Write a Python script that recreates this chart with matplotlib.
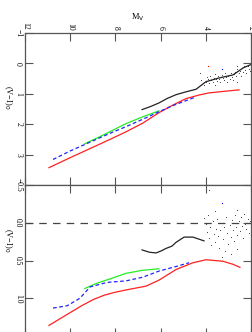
import matplotlib
matplotlib.use('Agg')
import matplotlib.pyplot as plt

plt.rcParams['font.family'] = ['Liberation Serif', 'DejaVu Serif']

# --- panel superior: color (V-I)_0 frente a M_V ---
red_mv = [10.94, 10.0, 9.0, 8.24, 7.53, 6.8, 6.07, 5.4, 4.88, 4.3, 3.86, 3.2, 2.53]
red_col = [3.43, 3.1, 2.76, 2.5, 2.25, 1.97, 1.62, 1.35, 1.16, 1.04, 0.97, 0.92, 0.87]
blue_mv = [10.76, 10.0, 9.0, 8.24, 7.53, 6.8, 6.07, 5.5, 5.0, 4.43]
blue_col = [3.16, 2.88, 2.55, 2.3, 2.08, 1.84, 1.59, 1.4, 1.26, 1.1]
green_mv = [9.35, 8.8, 8.2, 7.53, 6.8, 6.07]
green_col = [2.64, 2.45, 2.23, 1.98, 1.76, 1.56]
black_mv = [6.82, 6.45, 6.07, 5.7, 5.32, 4.9, 4.43, 3.99, 3.42, 2.8, 2.35, 1.95]
black_col = [1.52, 1.42, 1.30, 1.15, 1.03, 0.94, 0.85, 0.6, 0.48, 0.38, 0.15, 0.02]

top_pts_mv = [4.35, 4.2, 4.1, 4.0, 3.95, 3.9, 3.85, 3.8, 3.75, 3.7, 3.65, 3.6,
              3.55, 3.5, 3.45, 3.4, 3.35, 3.3, 3.25, 3.2, 3.15, 3.1, 3.05, 3.0,
              2.95, 2.9, 2.85, 2.8, 2.75, 2.7, 2.65, 2.6, 2.55, 2.5, 2.45, 2.4,
              2.35, 2.3, 2.25, 2.2, 2.15, 2.1, 2.05, 2.0, 3.6, 2.6, 4.25]
top_pts_col = [0.78, 0.55, 0.7, 0.6, 0.45, 0.5, 0.65, 0.4, 0.55, 0.62, 0.48, 0.35,
               0.52, 0.58, 0.42, 0.5, 0.62, 0.38, 0.47, 0.55, 0.33, 0.45, 0.6, 0.4,
               0.5, 0.3, 0.44, 0.55, 0.35, 0.28, 0.42, 0.2, 0.33, 0.25, 0.4, 0.15,
               0.28, 0.1, 0.22, 0.32, 0.08, 0.18, 0.25, 0.05, 0.72, 0.62, 0.32]
top_red_mv = [3.9, 2.6]
top_red_col = [0.1, 0.1]
top_blue_mv = [3.3]
top_blue_col = [0.2]

# --- panel inferior: residuos ---
red2_mv = [10.94, 10.5, 10.0, 9.5, 9.0, 8.5, 8.0, 7.53, 6.65, 6.07, 5.32, 4.57, 3.99, 3.24, 2.8, 2.49]
red2_d = [1.36, 1.28, 1.19, 1.10, 1.02, 0.96, 0.92, 0.89, 0.84, 0.76, 0.62, 0.53, 0.49, 0.51, 0.55, 0.59]
blue2_mv = [10.76, 10.14, 9.57, 9.12, 8.37, 7.53, 6.78, 6.07, 5.32, 4.74]
blue2_d = [1.13, 1.10, 1.00, 0.85, 0.79, 0.77, 0.72, 0.64, 0.58, 0.53]
green2_mv = [9.35, 8.81, 8.2, 7.53, 6.8, 6.07]
green2_d = [0.87, 0.80, 0.74, 0.67, 0.63, 0.61]
black2_mv = [6.82, 6.5, 6.2, 5.95, 5.76, 5.5, 5.32, 4.96, 4.57, 4.08]
black2_d = [0.36, 0.39, 0.40, 0.37, 0.34, 0.31, 0.26, 0.19, 0.19, 0.24]

bot_pts_mv = [4.1, 4.0, 3.95, 3.9, 3.85, 3.8, 3.75, 3.7, 3.65, 3.6, 3.55, 3.5,
              3.45, 3.4, 3.35, 3.3, 3.25, 3.2, 3.15, 3.1, 3.05, 3.0, 2.95, 2.9,
              2.85, 2.8, 2.75, 2.7, 2.65, 2.6, 2.55, 2.5, 2.45, 2.4, 2.35, 2.3,
              2.25, 2.2, 2.15, 2.1, 2.05, 2.0, 3.6, 2.9, 3.3, 2.6]
bot_pts_d = [-0.06, 0.02, 0.12, -0.1, 0.2, 0.05, 0.3, -0.02, 0.15, 0.25, 0.08, -0.05,
             0.18, 0.33, 0.1, 0.0, 0.22, 0.06, 0.38, -0.08, 0.14, 0.28, 0.03, 0.19,
             -0.04, 0.09, 0.24, -0.1, 0.05, 0.16, -0.02, 0.11, -0.07, 0.04, 0.2, -0.12,
             0.01, 0.08, -0.05, 0.13, -0.02, 0.06, -0.15, 0.42, 0.45, 0.35]
bot_red_mv = [3.85, 2.6]
bot_red_d = [-0.43, -0.17]
bot_blue_mv = [3.3]
bot_blue_d = [-0.26]

top_ticks = [-1, 0, 1, 2, 3]
bot_ticks = [-0.5, 0.0, 0.5, 1.0, 1.5]
bot_ticklabels = ['\u22120.5', '0.0', '0.5', '1.0', '1.5']
mv_ticks = [12, 10, 8, 6, 4, 2]

fig = plt.figure(figsize=(2.52, 3.32), dpi=100)
ax1 = fig.add_axes([25 / 252, 1 - 185 / 332, 226 / 252, 152 / 332])
ax2 = fig.add_axes([25 / 252, 1 - 336 / 332, 226 / 252, 151 / 332])

spine_col = '#555555'
for ax in (ax1, ax2):
    ax.set_xlim(12, 2)
    for s in ax.spines.values():
        s.set_color(spine_col)
        s.set_linewidth(0.9)
    ax.tick_params(direction='in', length=5.5, width=0.8, color=spine_col,
                   top=True, bottom=True, left=True, right=True,
                   labelsize=5.5, pad=2)
    ax.set_xticks(mv_ticks)

# superior
ax1.plot(red_mv, red_col, color='#ff2020', lw=0.9)
ax1.plot(green_mv, green_col, color='#22ee22', lw=0.9)
ax1.plot(blue_mv, blue_col, color='#2222ff', lw=0.9, ls=(0, (3, 2)))
ax1.plot(black_mv, black_col, color='#222222', lw=0.9)
ax1.scatter(top_pts_mv, top_pts_col, s=0.6, color='#333333', linewidths=0)
ax1.scatter(top_red_mv, top_red_col, s=0.8, color='red', linewidths=0)
ax1.scatter(top_blue_mv, top_blue_col, s=0.8, color='blue', linewidths=0)
ax1.set_ylim(4, -1)
ax1.set_yticks(top_ticks)
ax1.set_yticklabels(['\u22121', '0', '1', '2', '3'], rotation=-90, va='center')
ax1.xaxis.tick_top()
ax1.tick_params(axis='x', bottom=True, labelbottom=False, labeltop=True, labelrotation=-90)
ax1.xaxis.set_label_position('top')
ax1.set_xlabel('M$_{\\mathrm{V}}$', fontsize=6, labelpad=2)
ax1.set_ylabel('(V\u2212I)$_0$', fontsize=6, rotation=-90, labelpad=9)
ax1.yaxis.label.set_y(0.58)

# inferior
ax2.axhline(0, color='#444444', lw=0.9, ls=(0, (6, 5)))
ax2.plot(red2_mv, red2_d, color='#ff2020', lw=0.9)
ax2.plot(green2_mv, green2_d, color='#22ee22', lw=0.9)
ax2.plot(blue2_mv, blue2_d, color='#2222ff', lw=0.9, ls=(0, (3, 2)))
ax2.plot(black2_mv, black2_d, color='#222222', lw=0.9)
ax2.scatter(bot_pts_mv, bot_pts_d, s=0.6, color='#333333', linewidths=0)
ax2.scatter(bot_red_mv, bot_red_d, s=0.8, color='red', linewidths=0)
ax2.scatter(bot_blue_mv, bot_blue_d, s=0.8, color='blue', linewidths=0)
ax2.set_ylim(1.5, -0.5)
ax2.set_yticks(bot_ticks)
ax2.set_yticklabels(bot_ticklabels, rotation=-90, va='center')
ax2.tick_params(axis='x', labelbottom=False, labeltop=False)
ax2.set_ylabel('(V\u2212I)$_0$', fontsize=6, rotation=-90, labelpad=9)
ax2.yaxis.label.set_y(0.635)

fig.savefig('out.png', dpi=100)
